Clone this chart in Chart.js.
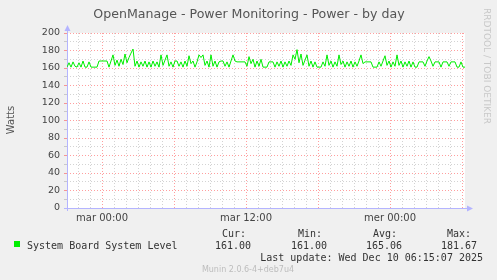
<!DOCTYPE html>
<html>
<head>
<meta charset="utf-8">
<script src="https://cdn.jsdelivr.net/npm/chart.js@4/dist/chart.umd.min.js"></script>
<style>
html, body { margin: 0; padding: 0; background: #f0f0f0; }
#grafico { display: block; }
</style>
</head>
<body>
<canvas id="grafico" width="497" height="280"></canvas>
<script>
// Power draw (W), one sample every 10 minutes, first one ~2h55 before Tuesday 00:00
const inicioHoras = -35 / 12;
const pasoHoras = 1 / 6;
const potencia = [
  161,166,161,167,162,161,166,161,168,161, 161,167,161,161,161,161,168,168,168,168,
  168,161,168,175,163,169,162,170,164,176, 166,172,177,181.67,162,168,161,167,162,168,
  161,167,161,168,162,167,161,175,163,169, 175,162,167,161,168,168,162,167,161,168,
  162,174,165,168,161,167,175,172,175,163, 168,161,175,162,168,161,167,168,168,162,
  167,161,168,175,168,167,167,167,167,167, 162,173,165,170,161,168,162,170,161,161,
  161,167,167,167,161,167,162,168,161,167, 162,168,163,175,170,181,166,176,163,169,
  175,162,168,161,167,161,161,161,167,162, 175,163,168,161,167,162,175,164,168,161,
  167,162,168,161,167,162,168,175,165,167, 167,167,167,161,161,161,167,162,168,174,
  163,168,161,167,162,175,163,168,161,167, 162,168,161,167,161,161,167,167,167,162,
  168,173,168,162,167,167,167,161,167,167, 167,162,167,167,167,161,161,167,161,161
];

// x axis: hours from Tuesday 00:00
const ejeXMin = -35 / 12;
const ejeXMax = 30.25;
const etiquetasX = { 0: 'mar 00:00', 12: 'mar 12:00', 24: 'mer 00:00' };

const titulo = 'OpenManage - Power Monitoring - Power - by day';
const etiquetaY = 'Watts';
const nombreSerie = 'System Board System Level';
const columnas = ['Cur:', 'Min:', 'Avg:', 'Max:'];
const valoresResumen = ['161.00', '161.00', '165.06', '181.67'];
const ultimaActualizacion = 'Last update: Wed Dec 10 06:15:07 2025';
const versionMunin = 'Munin 2.0.6-4+deb7u4';
const marcaRrd = 'RRDTOOL / TOBI OETIKER';

const puntos = potencia.map((v, i) => ({ x: inicioHoras + i * pasoHoras, y: v }));

const verde = '#00ee00';
const rojoGrid = 'rgba(255,0,0,0.38)';
const grisGrid = 'rgba(130,130,130,0.35)';
const azulEje = '#b4b4ff';

const fondoYTextos = {
  id: 'fondoYTextos',
  beforeDraw(chart) {
    const { ctx, chartArea: a } = chart;
    ctx.save();
    ctx.fillStyle = '#ffffff';
    ctx.fillRect(a.left, a.top, a.right - a.left, a.bottom - a.top);
    ctx.restore();
  },
  beforeDatasetsDraw(chart) {
    const { ctx, chartArea: a } = chart;
    ctx.save();
    ctx.strokeStyle = azulEje;
    ctx.fillStyle = azulEje;
    ctx.lineWidth = 1;
    // y axis with arrow
    ctx.beginPath();
    ctx.moveTo(a.left + 0.5, a.bottom + 3);
    ctx.lineTo(a.left + 0.5, a.top - 5);
    ctx.stroke();
    ctx.beginPath();
    ctx.moveTo(a.left - 2.5, a.top - 2);
    ctx.lineTo(a.left + 0.5, a.top - 8);
    ctx.lineTo(a.left + 3.5, a.top - 2);
    ctx.fill();
    // x axis with arrow
    ctx.beginPath();
    ctx.moveTo(a.left - 3, a.bottom + 0.5);
    ctx.lineTo(a.right + 5, a.bottom + 0.5);
    ctx.stroke();
    ctx.beginPath();
    ctx.moveTo(a.right + 2, a.bottom - 2.5);
    ctx.lineTo(a.right + 8, a.bottom + 0.5);
    ctx.lineTo(a.right + 2, a.bottom + 3.5);
    ctx.fill();
    ctx.restore();
  },
  afterDraw(chart) {
    const { ctx } = chart;
    ctx.save();
    ctx.textBaseline = 'alphabetic';

    ctx.fillStyle = '#555555';
    ctx.font = '12.6px "DejaVu Sans"';
    ctx.textAlign = 'center';
    ctx.fillText(titulo, 249, 18);

    ctx.save();
    ctx.translate(14, 120);
    ctx.rotate(-Math.PI / 2);
    ctx.font = '10px "DejaVu Sans"';
    ctx.fillStyle = '#555555';
    ctx.fillText(etiquetaY, 0, 0);
    ctx.restore();

    ctx.save();
    ctx.translate(484, 8);
    ctx.rotate(Math.PI / 2);
    ctx.font = '9px "DejaVu Sans"';
    ctx.fillStyle = '#c8c8c8';
    ctx.textAlign = 'left';
    ctx.fillText(marcaRrd, 0, 0);
    ctx.restore();

    // legend
    ctx.fillStyle = verde;
    ctx.fillRect(14, 241, 6, 6);
    ctx.fillStyle = '#333333';
    ctx.font = '10px "DejaVu Sans Mono"';
    ctx.textAlign = 'left';
    ctx.fillText(nombreSerie, 27, 249);
    const cabX = [222, 298, 373, 447];
    const valX = [215, 291, 366, 441];
    columnas.forEach((c, i) => ctx.fillText(c, cabX[i], 237));
    valoresResumen.forEach((v, i) => ctx.fillText(v, valX[i], 249));
    ctx.textAlign = 'right';
    ctx.fillText(ultimaActualizacion, 483, 261);

    ctx.textAlign = 'center';
    ctx.font = '8px "DejaVu Sans"';
    ctx.fillStyle = '#bdbdbd';
    ctx.fillText(versionMunin, 248, 272);
    ctx.restore();
  }
};

new Chart(document.getElementById('grafico'), {
  type: 'line',
  data: {
    datasets: [{
      label: nombreSerie,
      data: puntos,
      borderColor: verde,
      borderWidth: 1,
      pointRadius: 0,
      tension: 0
    }]
  },
  options: {
    responsive: false,
    animation: false,
    devicePixelRatio: 1,
    layout: { padding: { top: 33, right: 32, bottom: 52, left: 0 } },
    plugins: {
      legend: { display: false },
      tooltip: { enabled: false },
      title: { display: false }
    },
    scales: {
      x: {
        type: 'linear',
        min: ejeXMin,
        max: ejeXMax,
        afterFit: s => { s.height = 20; },
        border: { display: false, dash: [1, 2] },
        grid: {
          color: c => (c.tick && c.tick.value % 6 === 0) ? rojoGrid : grisGrid,
          lineWidth: 1,
          drawTicks: false
        },
        ticks: {
          stepSize: 1,
          includeBounds: false,
          autoSkip: false,
          maxRotation: 0,
          padding: 4,
          color: '#444444',
          font: { family: 'DejaVu Sans', size: 10 },
          callback: v => etiquetasX[v] || ''
        }
      },
      y: {
        min: 0,
        max: 200,
        afterFit: s => { s.width = 67; },
        border: { display: false, dash: [1, 2] },
        grid: {
          color: c => (c.tick && c.tick.value % 20 === 0) ? rojoGrid : grisGrid,
          lineWidth: 1,
          drawTicks: true,
          tickLength: 3
        },
        ticks: {
          stepSize: 10,
          autoSkip: false,
          padding: 4,
          color: '#444444',
          font: { family: 'DejaVu Sans', size: 9.5 },
          callback: v => (v % 20 === 0) ? v : ''
        }
      }
    }
  },
  plugins: [fondoYTextos]
});
</script>
</body>
</html>
